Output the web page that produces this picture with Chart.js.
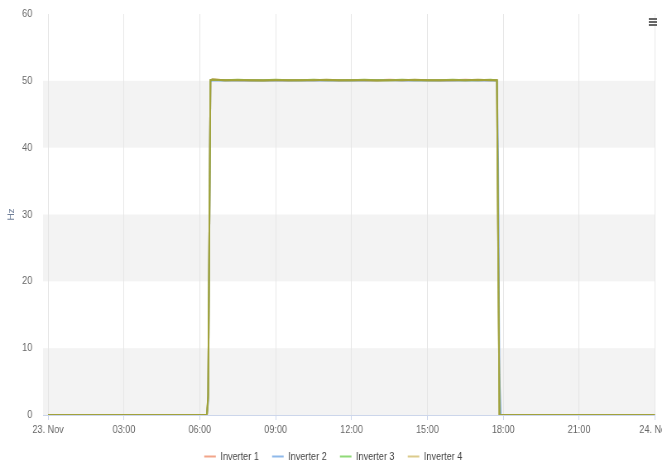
<!DOCTYPE html>
<html lang="de">
<head>
    <meta charset="UTF-8">
    <title>Inverter Frequenz</title>
    <style>
        html, body { margin: 0; padding: 0; background: #fff; overflow: hidden; }
        #wrap { width: 662px; height: 463px; overflow: hidden; }
        /* Chart wird breiter gezeichnet und horizontal gestaucht, wie im Original */
        #freqChart { transform: scaleX(0.8275); transform-origin: 0 0; }
    </style>
</head>
<body>
    <div id="wrap"><canvas id="freqChart" width="800" height="463"></canvas></div>

    <script src="https://cdn.jsdelivr.net/npm/chart.js"></script>
    <script>
        // Zeitpunkte in Stunden ab 23. Nov 00:00
        const times = [0, 1, 2, 3, 4, 5, 6, 6.2, 6.28, 6.33, 6.42, 6.5,
            7, 7.5, 8, 8.5, 9, 9.5, 10, 10.5, 11, 11.5, 12, 12.5, 13, 13.5,
            14, 14.5, 15, 15.5, 16, 16.5, 17, 17.5, 17.7, 17.75, 17.8, 17.85, 17.9,
            18, 19, 20, 21, 22, 23, 24];

        const inverter1 = [0, 0, 0, 0, 0, 0, 0, 0, 0, 2.5, 50.1, 50.2,
            50.1, 50.1, 50.05, 50.1, 50.1, 50.05, 50.1, 50.1, 50.1, 50.05, 50.1, 50.1, 50.1, 50.15,
            50.1, 50.1, 50.1, 50.05, 50.1, 50.15, 50.1, 50.1, 50.1, 50.1, 26, 0, 0,
            0, 0, 0, 0, 0, 0, 0];
        const inverter2 = [0, 0, 0, 0, 0, 0, 0, 0, 0, 2.0, 49.9, 50.1,
            50.05, 50.1, 50.05, 50.05, 50.1, 50.05, 50.05, 50.1, 50.05, 50.05, 50.1, 50.05, 50.1, 50.1,
            50.05, 50.1, 50.05, 50.05, 50.05, 50.1, 50.05, 50.05, 50.05, 50.0, 38, 6, 0,
            0, 0, 0, 0, 0, 0, 0];
        const inverter3 = [0, 0, 0, 0, 0, 0, 0, 0, 0, 2.8, 50.1, 50.15,
            50.1, 50.15, 50.1, 50.1, 50.15, 50.1, 50.1, 50.15, 50.1, 50.1, 50.1, 50.15, 50.1, 50.1,
            50.15, 50.1, 50.1, 50.1, 50.15, 50.1, 50.1, 50.15, 50.1, 50.1, 24, 0, 0,
            0, 0, 0, 0, 0, 0, 0];
        const inverter4 = [0, 0, 0, 0, 0, 0, 0, 0, 0, 3.0, 50.1, 50.2,
            50.1, 50.1, 50.1, 50.05, 50.1, 50.1, 50.1, 50.1, 50.15, 50.1, 50.1, 50.1, 50.05, 50.1,
            50.1, 50.15, 50.1, 50.1, 50.1, 50.1, 50.15, 50.1, 50.1, 50.1, 25, 0, 0,
            0, 0, 0, 0, 0, 0, 0];

        const seriesNames = ['Inverter 1', 'Inverter 2', 'Inverter 3', 'Inverter 4'];
        const seriesValues = [inverter1, inverter2, inverter3, inverter4];
        const lineColors = ['#e8a084', '#7fa9da', '#93b850', '#a2a23a'];
        const legendColors = ['#f2a58a', '#8fb9ea', '#90da78', '#dccb8c'];

        const xTicks = [0, 3, 6, 9, 12, 15, 18, 21, 24];
        const xTickLabels = ['23. Nov', '03:00', '06:00', '09:00', '12:00', '15:00', '18:00', '21:00', '24. Nov'];
        const yBands = [[0, 10], [20, 30], [40, 50]];

        const fontFamily = "'Liberation Sans', Arial, sans-serif";

        // Hintergrundbänder (alternierend), Legende etwas nach rechts, Menü-Symbol
        const bandPlugin = {
            id: 'bands',
            afterLayout(chart) {
                chart.legend.left += 7;
                chart.legend.right += 7;
            },
            beforeDraw(chart) {
                const ctx = chart.ctx;
                const area = chart.chartArea;
                const y = chart.scales.y;
                ctx.save();
                ctx.fillStyle = '#f3f3f3';
                yBands.forEach(b => {
                    const top = y.getPixelForValue(b[1]);
                    const bottom = y.getPixelForValue(b[0]);
                    ctx.fillRect(area.left, top, area.right - area.left, bottom - top);
                });
                ctx.restore();
            },
            afterDraw(chart) {
                const ctx = chart.ctx;
                ctx.save();
                ctx.strokeStyle = '#666';
                ctx.lineWidth = 2;
                [19, 22, 25].forEach(yy => {
                    ctx.beginPath();
                    ctx.moveTo(784, yy);
                    ctx.lineTo(794, yy);
                    ctx.stroke();
                });
                ctx.restore();
            }
        };

        const freqChart = new Chart(document.getElementById('freqChart'), {
            type: 'line',
            data: {
                datasets: seriesNames.map((name, i) => ({
                    label: name,
                    data: times.map((t, k) => ({ x: t, y: seriesValues[i][k] })),
                    borderColor: lineColors[i],
                    backgroundColor: legendColors[i],
                    borderWidth: 2,
                    pointRadius: 0,
                    tension: 0,
                    fill: false,
                    order: seriesNames.length - i
                }))
            },
            options: {
                responsive: false,
                animation: false,
                layout: { padding: { top: 14, right: 8.5, left: 0, bottom: -9 } },
                plugins: {
                    tooltip: { enabled: false },
                    legend: {
                        position: 'bottom',
                        labels: {
                            usePointStyle: true,
                            pointStyle: 'line',
                            pointStyleWidth: 14,
                            padding: 16,
                            color: '#444',
                            font: { family: fontFamily, size: 11 },
                            generateLabels(chart) {
                                return chart.data.datasets.map((ds, i) => ({
                                    text: ds.label,
                                    strokeStyle: legendColors[i],
                                    fillStyle: legendColors[i],
                                    lineWidth: 2,
                                    pointStyle: 'line',
                                    fontColor: '#444',
                                    hidden: false,
                                    datasetIndex: i
                                }));
                            }
                        }
                    }
                },
                scales: {
                    x: {
                        type: 'linear',
                        min: -0.2,
                        max: 24,
                        afterBuildTicks(scale) {
                            scale.ticks = xTicks.map(v => ({ value: v }));
                        },
                        afterFit(scale) {
                            scale.paddingLeft = 0;
                            scale.paddingRight = 0;
                            scale.height = 20;
                        },
                        grid: {
                            color: '#e6e6e6',
                            tickColor: '#ccd6eb',
                            tickLength: 5
                        },
                        border: { color: '#ccd6eb', width: 1 },
                        ticks: {
                            autoSkip: false,
                            maxRotation: 0,
                            padding: 3,
                            color: '#666',
                            font: { family: fontFamily, size: 11 },
                            callback: (v) => xTickLabels[xTicks.indexOf(v)]
                        }
                    },
                    y: {
                        min: 0,
                        max: 60,
                        afterFit(scale) {
                            scale.width = 52;
                            scale.paddingTop = 0;
                            scale.paddingBottom = 0;
                        },
                        grid: { display: false, drawTicks: false },
                        border: { display: false },
                        ticks: {
                            stepSize: 10,
                            padding: 13,
                            color: '#666',
                            font: { family: fontFamily, size: 11 }
                        },
                        title: {
                            display: true,
                            text: 'Hz',
                            color: '#6f7f99',
                            padding: { top: 8.5, bottom: 0 },
                            font: { family: fontFamily, size: 10 }
                        }
                    }
                }
            },
            plugins: [bandPlugin]
        });
    </script>
</body>
</html>
